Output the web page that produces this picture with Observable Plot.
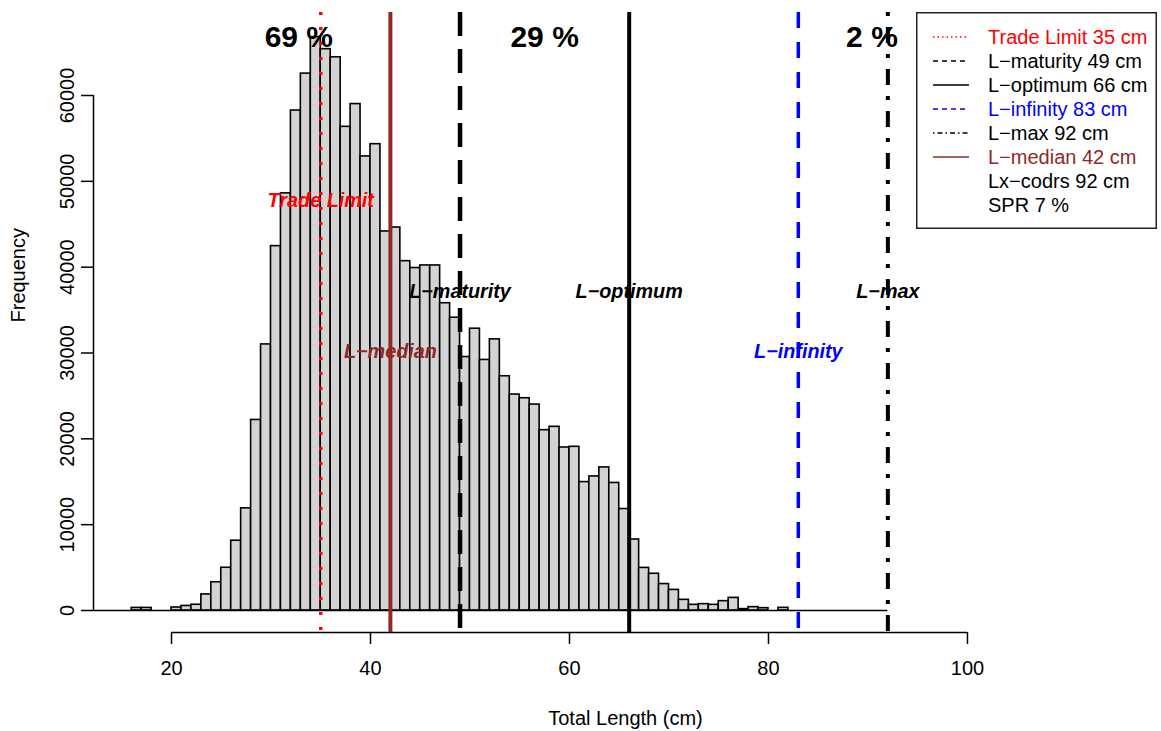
<!DOCTYPE html>
<html>
<head>
<meta charset="utf-8">
<script src="https://cdn.jsdelivr.net/npm/d3@7"></script>
<script src="https://cdn.jsdelivr.net/npm/@observablehq/plot@0.6"></script>
<style>
  html, body { margin: 0; padding: 0; background: white; }
  #wrap { position: relative; width: 1161px; height: 731px; font-family: "Liberation Sans", Arial, Helvetica, sans-serif; }
  #legend { position: absolute; left: 916px; top: 12px; }
</style>
</head>
<body>
<div id="wrap"><div id="chart"></div><div id="legend"></div></div>
<script>
// ---- data ----
const binStart = [16,17,18,19,20,21,22,23,24,25,26,27,28,29,30,31,32,33,34,35,36,37,38,39,40,41,42,43,44,45,46,47,48,49,50,51,52,53,54,55,56,57,58,59,60,61,62,63,64,65,66,67,68,69,70,71,72,73,74,75,76,77,78,79,80,81];
const counts = [300,300,0,0,350,530,670,1870,3290,4980,8130,11900,22200,31000,42450,48600,58250,62550,66800,65400,64450,56350,59000,52900,54330,44160,44620,40700,39900,40200,40200,35800,34110,29530,32830,29190,31590,27290,25160,24730,23990,21010,21400,18990,19070,14960,15620,16670,14860,11820,8270,4960,4280,3080,2400,1240,660,740,660,1090,1470,160,390,270,0,310];
const binWidth = 1;

const refNames  = ["Trade Limit", "L\u2212maturity", "L\u2212optimum", "L\u2212infinity", "L\u2212max", "L\u2212median"];
const refValues = [35, 49, 66, 83, 92, 42];
const refColors = ["#ff0000", "#000000", "#000000", "#0000ff", "#000000", "#912828"];
const refDash   = ["3 12", "24 13", null, "16 14", "4 11 16 11", null];
const refWidth  = [3.5, 4.5, 4, 3.5, 4, 4];
const refLabelY = [47700, 37200, 37200, 30200, 37200, 30200];

const pctText = ["69 %", "29 %", "2 %"];
const pctX    = [32.8, 57.5, 90.4];

const xTicks = [20, 40, 60, 80, 100];
const yTicks = [0, 10000, 20000, 30000, 40000, 50000, 60000];
const xLabel = "Total Length (cm)";
const yLabel = "Frequency";

const legendLabels = ["Trade Limit 35 cm", "L\u2212maturity 49 cm", "L\u2212optimum 66 cm", "L\u2212infinity 83 cm", "L\u2212max 92 cm", "L\u2212median 42 cm", "Lx\u2212codrs 92 cm", "SPR 7 %"];
const legendColors = ["#ff0000", "#000000", "#000000", "#0000ff", "#000000", "#912828", "#000000", "#000000"];
const legendDash   = ["1.5 3", "5 4", "", "5 4", "1.5 3 5 3", "", null, null];

// ---- scales (R usr region) ----
const xMin = 12.16, xMax = 119.1;
const yMin = -2563, yMax = 69670;

const bars = binStart.map((s, i) => ({x1: s, x2: s + binWidth, y: counts[i]}));
const refs = refValues.map((v, i) => ({v, name: refNames[i], color: refColors[i], dash: refDash[i], w: refWidth[i], ly: refLabelY[i]}));
const maxCount = d3.max(counts);
const pcts = pctText.map((t, i) => ({t, x: pctX[i], y: maxCount}));

const font = "'Liberation Sans', Arial, Helvetica, sans-serif";
const fs = 20;

const marks = [
  Plot.rectY(bars, {x1: "x1", x2: "x2", y: "y", fill: "#d3d3d3", stroke: "#000", strokeWidth: 1.6, inset: 0}),
  // baseline
  Plot.ruleY([0], {x1: xMin, x2: d3.max(refValues), stroke: "#000", strokeWidth: 1.6}),
  // axes lines
  Plot.ruleY([yMin], {x1: d3.min(xTicks), x2: d3.max(xTicks), stroke: "#000", strokeWidth: 1.5}),
  Plot.ruleX([xMin], {y1: d3.min(yTicks), y2: d3.max(yTicks), stroke: "#000", strokeWidth: 1.5}),
  Plot.axisX({ticks: xTicks, tickSize: 12, tickFormat: () => "", anchor: "bottom", strokeWidth: 1.5, label: null}),
  Plot.axisY({ticks: yTicks, tickSize: 12, tickFormat: () => "", anchor: "left", strokeWidth: 1.5, label: null}),
  Plot.text(xTicks, {x: d => d, y: yMin, dy: 36, text: d => String(d), fontSize: fs, lineAnchor: "middle", fill: "#000"}),
  Plot.text(yTicks, {x: xMin, y: d => d, dx: -26, rotate: -90, text: d => String(d), fontSize: fs, lineAnchor: "middle", textAnchor: "middle", fill: "#000"}),
  Plot.text([xLabel], {frameAnchor: "bottom", dy: 86, text: d => d, fontSize: fs, lineAnchor: "middle", fill: "#000"}),
  Plot.text([yLabel], {frameAnchor: "left", dx: -75, rotate: -90, text: d => d, fontSize: fs, lineAnchor: "middle", fill: "#000"})
];

refs.forEach(r => {
  marks.push(Plot.ruleX([r.v], {y1: yMax, y2: yMin, stroke: r.color, strokeWidth: r.w, strokeDasharray: r.dash || undefined}));
});
refs.forEach(r => {
  marks.push(Plot.text([r], {x: "v", y: "ly", text: "name", fill: r.color, fontSize: 19.8, fontWeight: "bold", fontStyle: "italic", lineAnchor: "middle"}));
});
marks.push(Plot.text(pcts, {x: "x", y: "y", text: "t", fontSize: 30, fontWeight: "bold", fill: "#000", lineAnchor: "middle"}));

const chart = Plot.plot({
  width: 1161, height: 731,
  marginLeft: 93, marginRight: 4, marginTop: 12, marginBottom: 99,
  x: {domain: [xMin, xMax], axis: null},
  y: {domain: [yMin, yMax], axis: null},
  style: {fontFamily: font, fontSize: fs + "px", background: "white", color: "#000", overflow: "visible"},
  marks
});
document.getElementById("chart").appendChild(chart);

// ---- legend ----
const lw = 241, lh = 217, rowH = 24, row0 = 25;
const lg = d3.select("#legend").append("svg").attr("width", lw).attr("height", lh)
  .style("font-family", font).style("overflow", "visible");
lg.append("rect").attr("x", 0.75).attr("y", 0.75).attr("width", lw - 1.5).attr("height", lh - 1.5)
  .attr("fill", "white").attr("stroke", "#222").attr("stroke-width", 1.5);
legendLabels.forEach((t, i) => {
  const cy = row0 + i * rowH;
  if (legendDash[i] !== null) {
    lg.append("line").attr("x1", 17).attr("x2", 53).attr("y1", cy).attr("y2", cy)
      .attr("stroke", legendColors[i]).attr("stroke-width", 1.5)
      .attr("stroke-dasharray", legendDash[i] || null);
  }
  lg.append("text").attr("x", 72).attr("y", cy).attr("dy", "0.35em")
    .attr("fill", legendColors[i]).attr("font-size", fs).text(t);
});
</script>
</body>
</html>
